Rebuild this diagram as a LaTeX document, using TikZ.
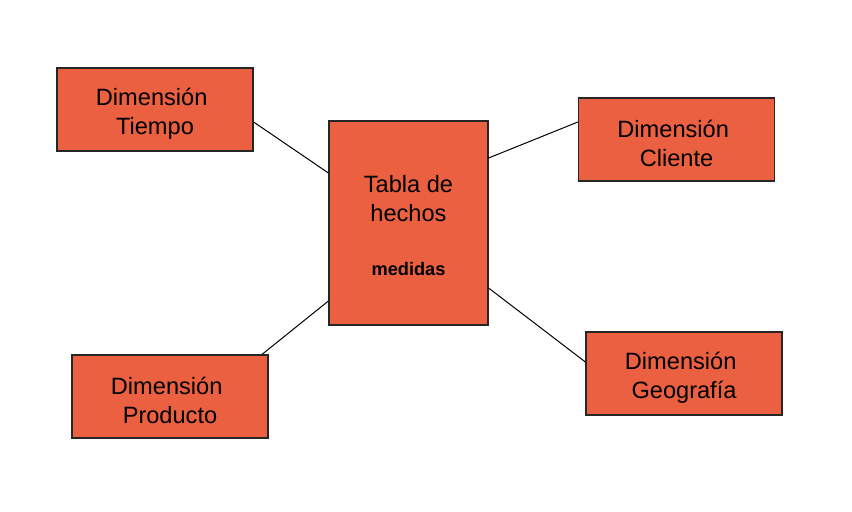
\documentclass[tikz,border=0pt]{standalone}
\usepackage{fontspec}
\setmainfont{Liberation Sans}
\usetikzlibrary{arrows,calc,positioning}
\definecolor{dimred}{RGB}{234,96,64}
\tikzset{
    dimension/.style = {rectangle,
                    fill=dimred,
                    draw=black!85,
                    text=black,
                    line width=0.6pt,
                    align=center,
                    font=\fontsize{11.8}{14.5}\selectfont,
                    minimum width=98pt,
                    minimum height=41.5pt,
                    inner sep=0pt},
    facts/.style =  {dimension,
                    minimum width=79.5pt,
                    minimum height=102pt},
    link/.style =   {draw=black,
                    line width=0.5pt},
    -}

\begin{document}
\begin{tikzpicture}
        \useasboundingbox (0,0) rectangle (426pt,255.5pt);
                \node[facts]        (T) at (204.25pt,144pt)   {\rule{0pt}{10.6pt}Tabla de\\hechos\\[12.5pt]{\bfseries\fontsize{9.1}{11}\selectfont medidas}};
                \node[dimension]    (Ti) at (77.5pt,200.75pt)  {\rule{0pt}{13pt}Dimensión\kern3.3pt\\Tiempo};
                \node[dimension]    (Cl) at (338.25pt,185.75pt) {\rule{0pt}{13pt}Dimensión\kern3.3pt\\Cliente};
                \node[dimension]    (Pr) at (85pt,57.25pt)     {\rule{0pt}{13pt}Dimensión\kern3.3pt\\Producto};
                \node[dimension]    (Ge) at (342pt,68.75pt)    {\rule{0pt}{13pt}Dimensión\kern3.3pt\\Geografía};
                \path [link]    ([yshift=-6.25pt]Ti.east) edge ([yshift=25pt]T.west)
                                ([yshift=32.5pt]T.east)   edge ([yshift=8.75pt]Cl.west)
                                ([yshift=-39pt]T.west)    edge ([xshift=46pt]Pr.north)
                                ([yshift=-32.5pt]T.east)  edge ([yshift=5.75pt]Ge.west);
        \end{tikzpicture}
\end{document}
